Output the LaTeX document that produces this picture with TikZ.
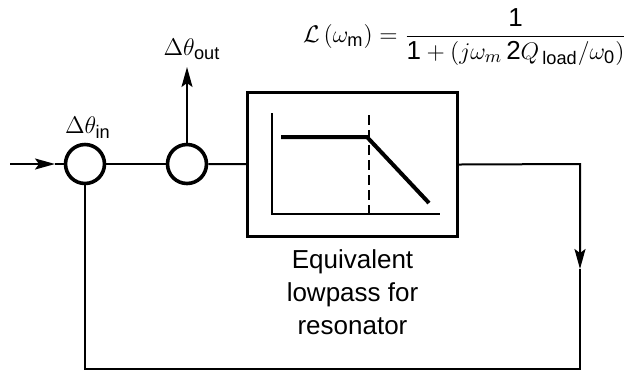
\documentclass[tikz,border=0pt]{standalone}
\usepackage{amsmath,amssymb}
\usepackage{fontspec}
\setmainfont{Liberation Sans}
\usetikzlibrary{arrows.meta,positioning,calc}

\begin{document}
\begin{tikzpicture}[x=0.5pt, y=-0.5pt, >={Stealth[length=10pt,width=5.5pt,inset=2pt]},
	   font=\fontsize{13}{16.5}\selectfont, line width=1pt,
	   sumnode/.style={draw, circle, line width=1.8pt, minimum size=19.5pt, inner sep=0pt},
	   blockbox/.style={draw, line width=1.6pt, minimum width=105pt, minimum height=72pt, inner sep=0pt}]
	  \useasboundingbox (0,0) rectangle (628,372);
	  % blocks
	  \node[sumnode] (sum1) at (85,164) {};
	  \node[sumnode] (sum2) at (187,164) {};
	  \node[blockbox] (lp) at (352.5,164.5) {};
	  % lowpass response sketch
	  \coordinate (ax) at (272,113); \coordinate (org) at (272,214); \coordinate (ay) at (440,214);
	  \coordinate (f0) at (281,137); \coordinate (fc) at (367,137); \coordinate (f1) at (429,203);
	  \draw (ax) -- (org) -- (ay);
	  \draw[line width=2pt] (f0) -- (fc) -- (f1);
	  \draw[dashed, line width=0.8pt, dash pattern=on 5pt off 2.5pt] (369,115) -- (369,214);
	  % labels
	  \node (inlab) at (88,128) {$\Delta\theta_{\mathrm{in}}$};
	  \node (outlab) at (192,49) {$\Delta\theta_{\mathrm{out}}$};
	  \node[below=5.5pt of lp, align=center, inner sep=0pt] (lptext) {Equivalent\\ lowpass for\\ resonator};
	  \node (tf) at (465,37) {$\mathcal{L}\,(\omega_{\mathrm{m}}) = \dfrac{\text{1}}{\text{1} + (j\omega_m\, \text{2}Q_{\,\mathrm{load}}/\omega_{\text{0}})}$};
	  % connectors
	  \coordinate (src) at (10,164); \coordinate (srcarr) at (55,164);
	  \coordinate (outend) at (187,67);
	  \coordinate (rt) at (580,164); \coordinate (rarr) at (580,269);
	  \coordinate (rb) at (580,369); \coordinate (lb) at (85,369);
	  \draw[->] (src) -- (srcarr); \draw (srcarr) -- (sum1.west);
	  \draw (sum1) -- (sum2); \draw (sum2) -- (lp);
	  \draw[->] (sum2.north) -- (outend);
	  \draw[->] (lp.east) -- (rt) -- (rarr);
	  \draw (rarr) -- (rb) -- (lb) -- (sum1.south);
	\end{tikzpicture}
\end{document}
